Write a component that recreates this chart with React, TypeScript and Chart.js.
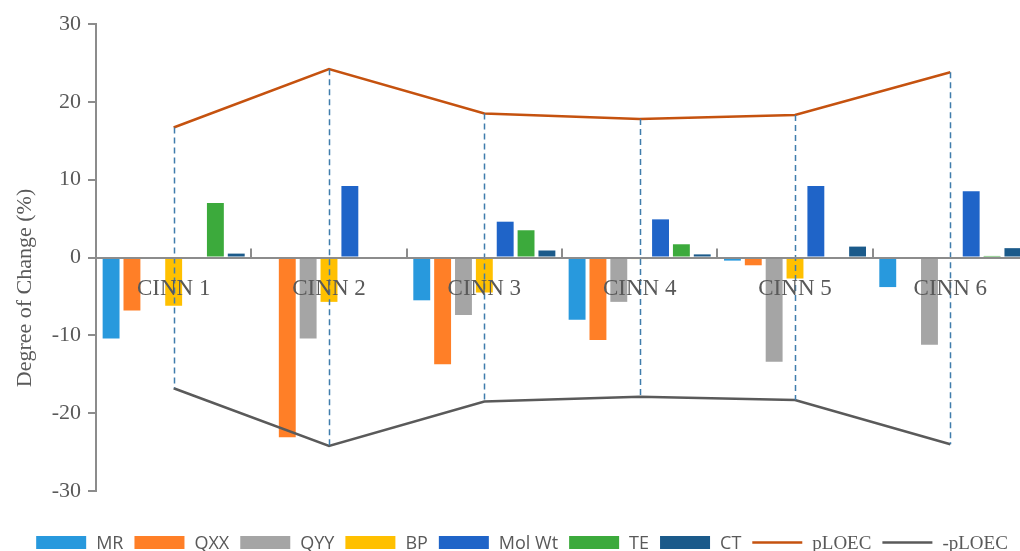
import React, { useEffect, useRef } from 'react';
import { Chart, registerables } from 'chart.js';

Chart.register(...registerables);

const categories = ['CINN 1', 'CINN 2', 'CINN 3', 'CINN 4', 'CINN 5', 'CINN 6'];
const yTicks = [-30, -20, -10, 0, 10, 20, 30];

const MR = [-10.4, 0, -5.5, -8.0, -0.4, -3.8];
const QXX = [-6.8, -23.1, -13.7, -10.6, -1.0, 0];
const QYY = [0, -10.4, -7.4, -5.7, -13.4, -11.2];
const BP = [-6.2, -5.7, -4.5, -0.2, -2.7, 0];
const MolWt = [0, 9.2, 4.6, 4.9, 9.2, 8.5];
const TE = [7.0, 0, 3.5, 1.7, 0, 0.2];
const CT = [0.5, 0, 0.9, 0.4, 1.4, 1.2];
const pLOEC = [16.7, 24.2, 18.5, 17.8, 18.3, 23.8];
const negPLOEC = [-16.8, -24.2, -18.5, -17.9, -18.3, -24.0];

const yTitle = 'Degree of Change (%)';

const SANS = '"Open Sans", "Noto Sans", sans-serif';
const SERIF = '"Liberation Serif", "Times New Roman", serif';
const TEXT = '#595959';
const AXIS = '#8C8C8C';
const DASH = '#3F7CAC';

const extras = {
  id: 'extras',
  afterDatasetsDraw(chart: any) {
    const { ctx } = chart;
    const x = chart.scales.x;
    const y = chart.scales.y;
    ctx.save();
    ctx.strokeStyle = DASH;
    ctx.lineWidth = 1.5;
    ctx.setLineDash([6, 4]);
    categories.forEach((_, i) => {
      const px = Math.round(x.getPixelForValue(i)) + 0.5;
      ctx.beginPath();
      ctx.moveTo(px, y.getPixelForValue(pLOEC[i]));
      ctx.lineTo(px, y.getPixelForValue(negPLOEC[i]));
      ctx.stroke();
    });
    ctx.restore();
  },
  afterDraw(chart: any) {
    const { ctx } = chart;
    const x = chart.scales.x;
    const y = chart.scales.y;
    const y0 = y.getPixelForValue(0);
    const w = (x.right - x.left) / categories.length;
    ctx.save();
    ctx.strokeStyle = AXIS;
    ctx.lineWidth = 2;
    for (let i = 1; i <= categories.length; i++) {
      const px = Math.round(x.left + i * w);
      ctx.beginPath();
      ctx.moveTo(px, y0 - 9);
      ctx.lineTo(px, y0);
      ctx.stroke();
    }
    // y axis title
    ctx.translate(25, 288);
    ctx.rotate(-Math.PI / 2);
    ctx.font = '22px ' + SERIF;
    ctx.fillStyle = TEXT;
    ctx.textAlign = 'center';
    ctx.textBaseline = 'middle';
    ctx.fillText(yTitle, 0, 0);
    ctx.restore();

    // legend
    ctx.save();
    const items = chart.data.datasets.map((ds: any) => {
      const isLine = ds.type === 'line';
      const font = isLine ? '19px ' + SERIF : '18px ' + SANS;
      ctx.font = font;
      return { ds, isLine, font, tw: ctx.measureText(ds.label).width };
    });
    const BOX = 50, GAP = 10, SEP = 11;
    const total = items.reduce((s: number, it: any) => s + BOX + GAP + it.tw, 0) + SEP * (items.length - 1);
    let cx = 522 - total / 2;
    const cy = 542.5;
    items.forEach((it: any) => {
      if (it.isLine) {
        ctx.strokeStyle = it.ds.borderColor;
        ctx.lineWidth = 2.5;
        ctx.beginPath();
        ctx.moveTo(cx, cy);
        ctx.lineTo(cx + BOX, cy);
        ctx.stroke();
      } else {
        ctx.fillStyle = it.ds.backgroundColor;
        ctx.fillRect(cx, 536, BOX, 13);
      }
      cx += BOX + GAP;
      ctx.font = it.font;
      ctx.fillStyle = TEXT;
      ctx.textBaseline = 'alphabetic';
      ctx.textAlign = 'left';
      ctx.fillText(it.ds.label, cx, 549);
      cx += it.tw + SEP;
    });
    ctx.restore();
  },
};

export default function App() {
  const ref = useRef<HTMLCanvasElement | null>(null);
  useEffect(() => {
    if (!ref.current) return;
    const bar = (label: string, data: number[], color: string) => ({
      type: 'bar' as const,
      label,
      data,
      backgroundColor: color,
      borderWidth: 0,
      categoryPercentage: 0.94,
      barPercentage: 0.81,
      order: 2,
    });
    const line = (label: string, data: number[], color: string) => ({
      type: 'line' as const,
      label,
      data,
      borderColor: color,
      backgroundColor: color,
      borderWidth: 2.5,
      pointRadius: 0,
      fill: false,
      tension: 0,
      order: 1,
    });
    const chart = new Chart(ref.current, {
      data: {
        labels: categories,
        datasets: [
          bar('MR', MR, '#2899DD'),
          bar('QXX', QXX, '#FF7F27'),
          bar('QYY', QYY, '#A5A5A5'),
          bar('BP', BP, '#FFC000'),
          bar('Mol Wt', MolWt, '#1F64C8'),
          bar('TE', TE, '#3CAA3C'),
          bar('CT', CT, '#1B5A8A'),
          line('pLOEC', pLOEC, '#C5520F'),
          line('-pLOEC', negPLOEC, '#5A5A5A'),
        ] as any,
      },
      options: {
        responsive: true,
        maintainAspectRatio: false,
        animation: false,
        devicePixelRatio: 1,
        layout: { padding: { top: 24, right: 24, bottom: 60, left: 0 } },
        plugins: {
          legend: { display: false },
          tooltip: { enabled: false },
        },
        scales: {
          x: {
            type: 'category',
            position: { y: 0 } as any,
            grid: { display: false, drawTicks: false },
            border: { display: true, color: AXIS, width: 2, z: 1 },
            ticks: {
              z: 1,
              color: TEXT,
              font: { family: SERIF, size: 23 },
              padding: 18,
              maxRotation: 0,
              autoSkip: false,
            },
          },
          y: {
            min: -30,
            max: 30,
            afterBuildTicks: (s: any) => {
              s.ticks = yTicks.map((v) => ({ value: v }));
            },
            afterFit: (s: any) => {
              s.width = 96;
            },
            ticks: {
              color: TEXT,
              font: { family: SERIF, size: 22 },
              padding: 7,
            },
            grid: { drawOnChartArea: false, drawTicks: true, tickLength: 8, color: AXIS, lineWidth: 2 },
            border: { display: true, color: AXIS, width: 2 },
          },
        },
      } as any,
      plugins: [extras],
    });
    return () => chart.destroy();
  }, []);

  return (
    <div style={{ position: 'absolute', left: 0, top: 0, width: 1020, height: 551, overflow: 'hidden', background: '#fff' }}>
      <div style={{ position: 'relative', width: 1052, height: 551 }}>
        <canvas ref={ref} />
      </div>
    </div>
  );
}
